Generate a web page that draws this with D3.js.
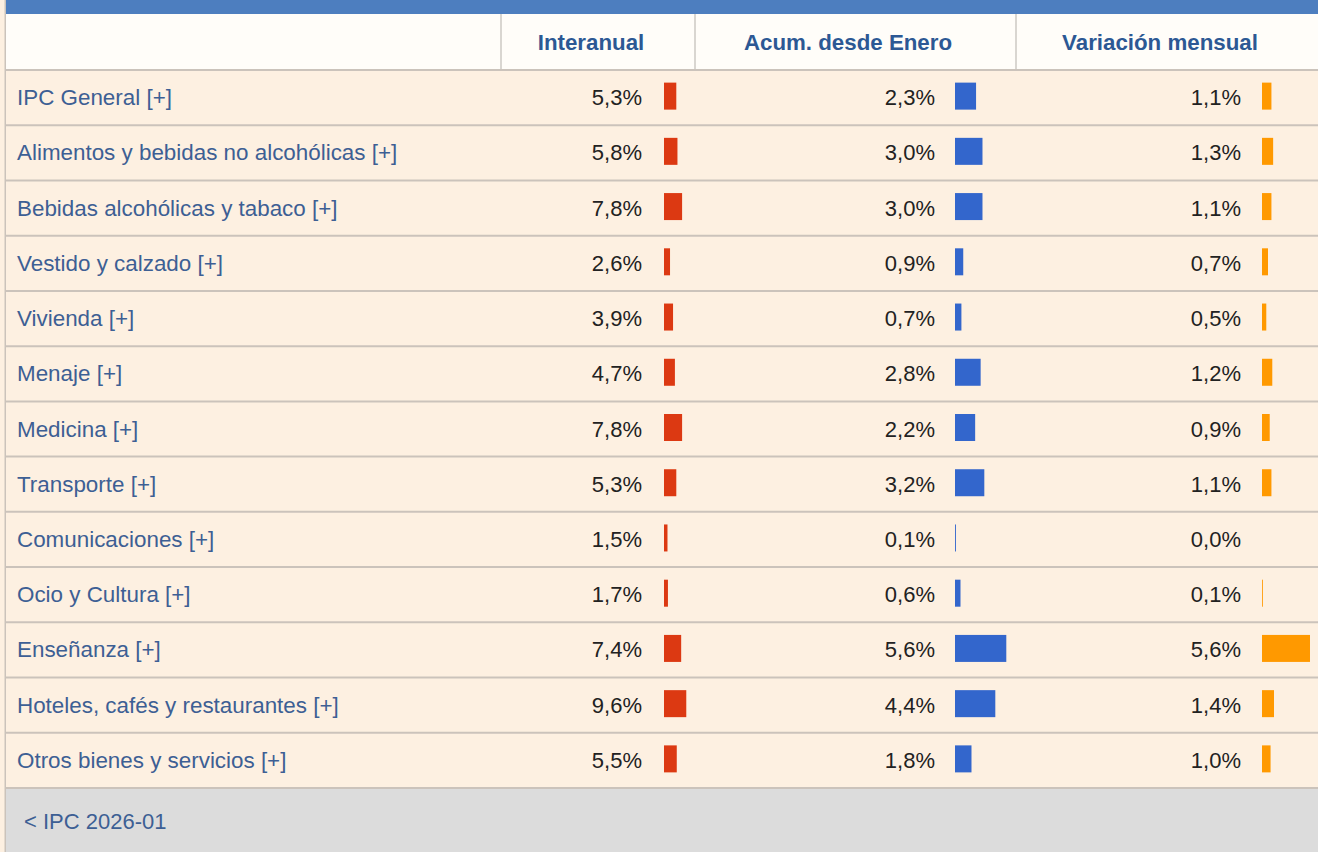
<!DOCTYPE html>
<html><head><meta charset="utf-8">
<script src="https://cdn.jsdelivr.net/npm/d3@7"></script>
<style>
html,body{margin:0;padding:0;background:#fdf0e1;overflow:hidden;}
svg{display:block;}
</style></head>
<body>
<svg id="c" width="1318" height="852"></svg>
<script>
const categories = ["IPC General [+]", "Alimentos y bebidas no alcohólicas [+]", "Bebidas alcohólicas y tabaco [+]", "Vestido y calzado [+]", "Vivienda [+]", "Menaje [+]", "Medicina [+]", "Transporte [+]", "Comunicaciones [+]", "Ocio y Cultura [+]", "Enseñanza [+]", "Hoteles, cafés y restaurantes [+]", "Otros bienes y servicios [+]"];
const interanual = [5.3, 5.8, 7.8, 2.6, 3.9, 4.7, 7.8, 5.3, 1.5, 1.7, 7.4, 9.6, 5.5];
const acumulado = [2.3, 3.0, 3.0, 0.9, 0.7, 2.8, 2.2, 3.2, 0.1, 0.6, 5.6, 4.4, 1.8];
const mensual = [1.1, 1.3, 1.1, 0.7, 0.5, 1.2, 0.9, 1.1, 0.0, 0.1, 5.6, 1.4, 1.0];
const headers = ["Interanual", "Acum. desde Enero", "Variación mensual"];
const footerLabel = "< IPC 2026-01";

const svg = d3.select("#c");
const W = 1318, H = 852;
const font = "'Liberation Sans', Arial, sans-serif";

// background pieces
svg.append("rect").attr("x",0).attr("y",0).attr("width",W).attr("height",H).attr("fill","#fdf0e1");
svg.append("rect").attr("x",6).attr("y",0).attr("width",W-6).attr("height",14).attr("fill","#4d7ebf");
svg.append("rect").attr("x",6).attr("y",14).attr("width",W-6).attr("height",56).attr("fill","#fffdf9");
svg.append("rect").attr("x",6).attr("y",788).attr("width",W-6).attr("height",H-788).attr("fill","#dcdcdc");
svg.append("rect").attr("x",4.5).attr("y",0).attr("width",1.5).attr("height",H).attr("fill","#cbc3bb");

// header separators
[501, 695, 1016].forEach(x => {
  svg.append("line").attr("x1",x).attr("x2",x).attr("y1",14).attr("y2",69)
    .attr("stroke","#cdc8c3").attr("stroke-width",1.5);
});

const y = d3.scaleBand().domain(categories).range([70, 788]);

// column definitions
const cols = [
  {vals: interanual, textX: 642, barX: 664, scale: d3.scaleLinear().domain([0,10]).range([0,23.2]), color:"#dc3912", hx: 591},
  {vals: acumulado, textX: 935, barX: 955, scale: d3.scaleLinear().domain([0,10]).range([0,91.6]), color:"#3366cc", hx: 848},
  {vals: mensual, textX: 1241, barX: 1262, scale: d3.scaleLinear().domain([0,10]).range([0,85.7]), color:"#ff9900", hx: 1160}
];

// header labels
svg.selectAll("text.hdr").data(headers).join("text")
  .attr("class","hdr")
  .attr("x",(d,i)=>cols[i].hx).attr("y",50)
  .attr("text-anchor","middle")
  .attr("font-family",font).attr("font-weight","bold").attr("font-size",22.3)
  .attr("fill","#2c5894")
  .text(d=>d);

// row separators
svg.selectAll("line.rowsep").data(categories).join("line")
  .attr("class","rowsep")
  .attr("x1",6).attr("x2",W)
  .attr("y1",d=>y(d)).attr("y2",d=>y(d))
  .attr("stroke","#cbc3bb").attr("stroke-width",2);
svg.append("line").attr("x1",6).attr("x2",W).attr("y1",788).attr("y2",788)
  .attr("stroke","#cbc3bb").attr("stroke-width",2);

// row labels
svg.selectAll("text.lbl").data(categories).join("text")
  .attr("class","lbl")
  .attr("x",17).attr("y",d=>y(d)+y.bandwidth()/2+7.5)
  .attr("font-family",font).attr("font-size",22.4)
  .attr("fill","#3d5f94")
  .text(d=>d);

const fmt = v => v.toFixed(1).replace(".", ",") + "%";

cols.forEach((c, ci) => {
  const g = svg.append("g");
  g.selectAll("text").data(categories).join("text")
    .attr("x",c.textX).attr("y",d=>y(d)+y.bandwidth()/2+7.5)
    .attr("text-anchor","end")
    .attr("font-family",font).attr("font-size",22)
    .attr("fill","#222")
    .text((d,i)=>fmt(c.vals[i]));
  g.selectAll("rect").data(categories).join("rect")
    .attr("x",c.barX)
    .attr("y",d=>y(d)+y.bandwidth()/2-15)
    .attr("width",(d,i)=>c.scale(c.vals[i]))
    .attr("height",27)
    .attr("fill",c.color);
});

// footer
svg.append("text").attr("x",24).attr("y",829)
  .attr("font-family",font).attr("font-size",22)
  .attr("fill","#3d5f94").text(footerLabel);
</script>
</body></html>
